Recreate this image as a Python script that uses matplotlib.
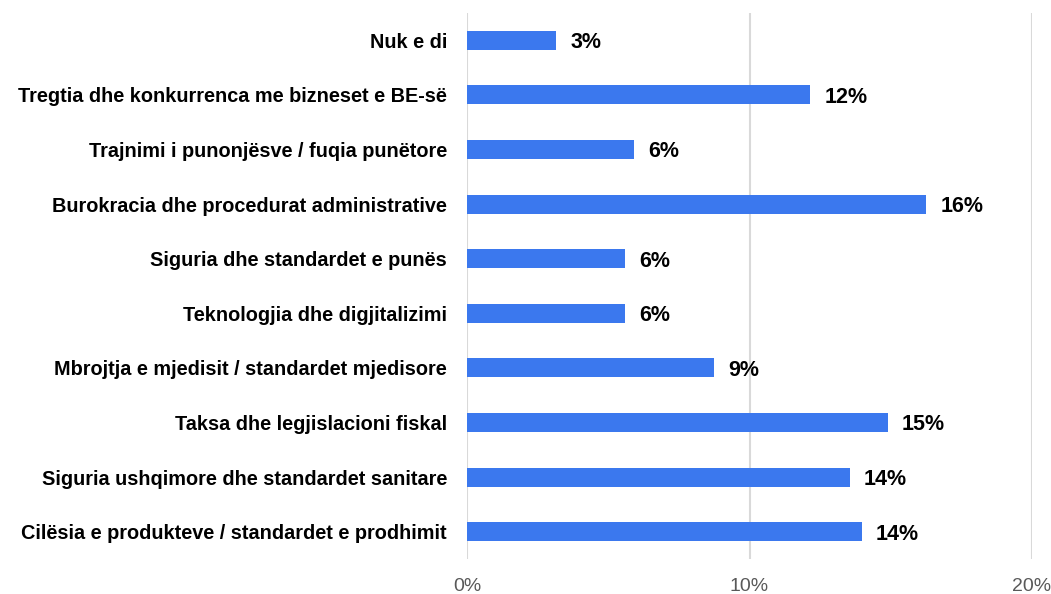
import matplotlib
matplotlib.use("Agg")
import matplotlib.pyplot as plt
from matplotlib.ticker import FuncFormatter

categories = [
    "Nuk e di",
    "Tregtia dhe konkurrenca me bizneset e BE-së",
    "Trajnimi i punonjësve / fuqia punëtore",
    "Burokracia dhe procedurat administrative",
    "Siguria dhe standardet e punës",
    "Teknologjia dhe digjitalizimi",
    "Mbrojtja e mjedisit / standardet mjedisore",
    "Taksa dhe legjislacioni fiskal",
    "Siguria ushqimore dhe standardet sanitare",
    "Cilësia e produkteve / standardet e prodhimit",
]
values = [3.15, 12.15, 5.9, 16.25, 5.6, 5.6, 8.75, 14.9, 13.55, 13.98]
value_labels = ["3%", "12%", "6%", "16%", "6%", "6%", "9%", "15%", "14%", "14%"]
xticks = [0, 10, 20]

plt.rcParams['font.family'] = ['Liberation Sans', 'DejaVu Sans']

fig = plt.figure(figsize=(10.51, 5.94), dpi=100)
ax = fig.add_axes([467/1051, 1 - 559/594, (1032-467)/1051, (559-13)/594])

ypos = list(range(len(categories)))
ax.barh(ypos, values, height=0.35, color="#3B78EE", zorder=3)
for y, v, lab in zip(ypos, values, value_labels):
    ax.text(v + 0.5, y, lab, va="center_baseline", ha="left", fontsize=15.5,
            fontweight="bold", color="#000000")

ax.set_yticks(ypos)
ax.set_yticklabels(categories, fontsize=14.3, fontweight="bold", color="#000000")
ax.set_ylim(len(categories) - 0.5, -0.5)
ax.set_xlim(0, 20)
ax.set_xticks(xticks)
ax.xaxis.set_major_formatter(FuncFormatter(lambda x, p: f"{x:.0f}%"))
ax.tick_params(axis="x", labelsize=14, labelcolor="#595959", length=0, pad=14)
ax.tick_params(axis="y", length=0, pad=14.4)
ax.grid(axis="x", color="#D9D9D9", linewidth=1.5, zorder=0)
for s in ax.spines.values():
    s.set_visible(False)

fig.savefig("out.png", dpi=100)
